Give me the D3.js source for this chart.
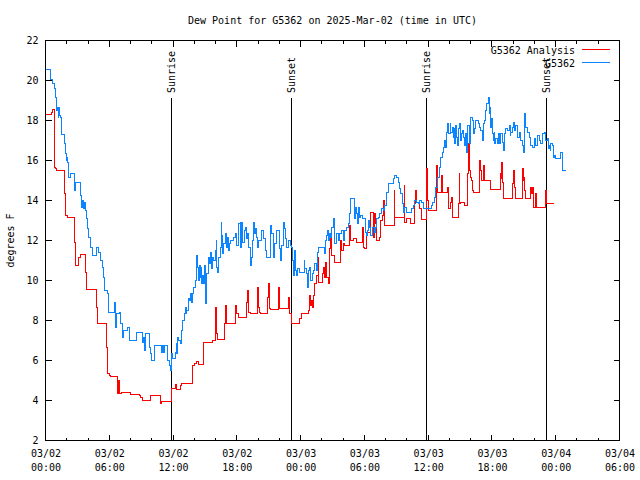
<!DOCTYPE html>
<html><head><meta charset="utf-8">
<script src="https://cdn.jsdelivr.net/npm/d3@7/dist/d3.min.js"></script>
<style>
body{margin:0;background:#fff}
text{font-family:"DejaVu Sans Mono","Liberation Mono",monospace;font-size:10px;fill:#000}
</style>
</head><body>
<svg id="chart" width="640" height="480"></svg>
<script>
// ---------- data ----------
const title = "Dew Point for G5362 on 2025-Mar-02 (time in UTC)";
const yAxisLabel = "degrees F";
const yTicks = [2,4,6,8,10,12,14,16,18,20,22];
const xTickHours = [0,6,12,18,24,30,36,42,48,54];
const xTickDates = ["03/02","03/02","03/02","03/02","03/03","03/03","03/03","03/03","03/04","03/04"];
const xTickTimes = ["00:00","06:00","12:00","18:00","00:00","06:00","12:00","18:00","00:00","06:00"];
const eventHours = [11.84, 23.13, 35.84, 47.13];
const eventLabels = ["Sunrise","Sunset","Sunrise","Sunset"];
const seriesNames = ["G5362 Analysis","G5362"];

// hours since 2025-03-02 00:00 UTC, dew point in degrees F
const analysisHours = [0,0.55,0.64,0.80,0.86,0.96,1.05,1.80,1.90,2.05,2.75,2.84,3.15,3.25,3.78,3.87,4.82,4.88,5.76,5.82,5.98,6.13,6.76,6.82,6.90,7.0,7.14,7.95,8.80,8.96,9.11,9.90,10.84,10.90,11.84,11.87,12.19,12.35,12.66,12.82,13.82,13.98,14.17,14.38,14.86,15.73,15.95,16.02,16.05,16.17,16.80,16.90,16.99,17.84,17.93,18.15,18.93,18.99,19.06,19.25,19.94,20.03,20.13,20.25,20.88,20.97,21.07,21.13,21.91,22.01,22.86,22.95,23.07,23.17,23.92,24.08,24.77,24.86,24.92,25.02,25.08,25.17,25.33,25.49,25.64,25.71,26.05,26.11,26.21,26.33,26.43,26.58,26.65,26.74,26.84,26.90,27.15,27.78,27.84,28.0,28.15,28.56,28.62,28.72,28.94,29.25,29.78,29.88,30.04,30.19,30.60,30.82,30.91,30.98,31.04,31.13,31.45,31.54,31.67,31.76,31.86,32.80,32.86,33.74,33.80,33.96,34.37,34.74,34.84,34.93,35.15,35.37,35.84,35.93,36.0,36.81,36.87,37.25,37.35,37.82,37.88,38.13,38.19,38.29,38.82,38.91,38.98,39.07,39.45,39.70,39.79,39.89,39.95,40.08,40.17,40.23,40.80,40.89,41.02,41.20,41.27,41.33,41.89,42.77,42.84,42.90,42.99,43.09,43.93,44.03,44.09,44.25,44.87,44.97,45.03,45.09,45.19,45.66,45.72,45.82,45.91,46.13,46.22,47.07,47.16,47.85];
const analysisValues = [18.3,18.42,18.53,17.08,15.67,15.58,15.5,14.33,13.25,13.13,11.92,10.75,11.17,11.3,10.42,9.53,8.67,7.83,6.67,5.33,5.25,5.2,4.67,4.33,5.0,4.33,4.42,4.3,4.25,4.13,4.0,4.25,3.83,3.97,4.5,4.58,4.8,4.53,4.75,4.87,5.75,5.87,5.95,5.8,6.92,7.0,7.92,8.67,7.33,7.03,7.83,8.75,7.83,8.75,8.33,8.17,8.92,9.5,8.42,8.33,9.67,8.67,8.42,8.33,9.17,9.83,8.58,8.53,9.67,8.58,9.17,8.37,8.33,7.83,8.08,8.33,8.5,9.25,8.75,9.0,8.67,9.25,9.83,10.25,11.17,9.92,10.33,10.67,10.17,10.92,10.17,10.08,9.83,11.58,12.17,11.25,10.92,12.0,11.5,11.83,11.75,12.5,12.75,12.0,12.08,11.92,12.67,11.67,11.58,12.42,13.42,12.17,12.75,13.33,12.83,12.0,12.13,13.0,13.25,14.0,12.75,14.5,13.17,14.75,12.92,13.08,12.83,13.83,14.5,13.92,13.58,13.03,15.58,14.0,13.5,15.75,14.42,15.25,14.42,14.67,13.58,13.92,14.17,13.17,13.83,15.33,13.83,13.92,13.75,15.33,16.83,15.5,15.17,15.0,14.5,14.42,16.0,15.5,15.0,15.75,15.17,15.0,14.53,15.33,15.08,15.92,14.92,14.08,14.83,15.5,14.67,14.08,15.58,15.0,15.17,14.5,14.08,14.67,14.33,14.67,13.67,14.33,13.67,14.5,13.83,13.83];

const stationHours = [0,0.49,0.64,0.80,0.96,1.05,1.11,1.18,1.24,1.33,1.43,1.49,1.80,1.90,1.96,2.02,2.05,2.12,2.21,2.31,2.75,2.84,3.25,3.37,3.47,3.56,3.69,3.81,3.87,3.94,4.09,4.25,4.41,4.82,4.97,5.19,5.35,5.44,5.51,5.82,5.88,6.45,6.54,6.60,6.70,6.92,7.01,7.23,7.33,7.76,7.86,8.58,9.11,9.21,9.27,9.43,9.74,9.90,9.99,10.27,10.90,11.0,11.09,11.22,11.47,11.62,11.72,11.84,11.94,12.19,12.28,12.35,12.41,12.50,12.66,12.75,12.91,13.04,13.13,13.22,13.29,13.44,13.54,13.66,13.76,13.85,13.91,14.07,14.17,14.23,14.29,14.38,14.48,14.54,14.60,14.70,14.79,14.86,14.92,15.01,15.08,15.17,15.33,15.42,15.48,15.64,15.73,15.80,15.95,16.05,16.11,16.17,16.27,16.42,16.52,16.58,16.64,16.74,16.90,17.05,17.11,17.21,17.30,17.37,17.68,17.84,17.93,17.99,18.15,18.31,18.37,18.46,18.56,18.68,18.78,18.87,19.0,19.09,19.25,19.34,19.47,19.56,19.66,19.75,19.88,19.97,20.03,20.35,20.50,20.66,20.82,21.19,21.29,21.44,21.51,21.69,22.01,22.07,22.23,22.38,22.48,22.54,22.70,22.86,23.01,23.17,23.23,23.30,23.45,23.51,23.60,23.70,23.92,24.33,24.39,24.55,24.64,24.77,24.86,24.95,25.08,25.17,25.33,25.49,25.58,25.64,26.21,26.33,26.43,26.52,26.58,26.74,26.84,26.90,27.06,27.21,27.37,27.53,27.68,27.84,28.0,28.15,28.31,28.47,28.62,28.72,29.03,29.09,29.16,29.25,29.35,29.47,29.57,29.66,29.79,30.10,30.19,30.29,30.41,30.51,30.60,30.73,30.91,31.04,31.13,31.29,31.45,31.60,31.76,31.92,32.07,32.23,32.70,32.86,33.02,33.17,33.33,33.42,33.55,33.64,33.80,33.96,34.43,34.58,34.68,34.90,35.06,35.21,35.37,35.53,36.31,36.40,36.56,36.72,36.87,37.03,37.19,37.35,37.44,37.57,37.66,37.75,37.82,37.91,38.07,38.13,38.29,38.38,38.44,38.51,38.60,38.69,38.76,38.82,38.91,39.01,39.13,39.23,39.32,39.38,39.54,39.64,39.70,39.86,39.95,40.17,40.26,40.33,40.48,40.70,40.80,40.95,41.11,41.20,41.33,41.42,41.52,41.64,41.74,41.83,41.89,41.99,42.05,42.15,42.21,42.27,42.37,42.52,42.58,42.68,42.84,42.99,43.09,43.15,43.31,43.46,43.62,43.71,43.78,43.93,44.03,44.09,44.25,44.40,44.56,44.72,44.87,44.97,45.03,45.19,45.35,45.50,45.66,45.82,45.97,46.13,46.29,46.44,46.60,46.76,46.91,47.07,47.23,47.29,47.38,47.48,47.54,47.70,47.79,47.92,48.01,48.48,48.64,48.98];
const stationValues = [20.53,20.03,19.83,19.58,19.17,18.5,18.67,18.17,18.67,18.25,18.17,17.3,16.83,16.33,16.0,16.17,15.92,15.42,15.17,15.37,14.5,14.92,14.25,13.67,14.0,13.58,13.92,13.5,13.08,12.58,12.17,11.67,11.25,11.67,11.42,11.0,10.67,10.17,9.5,9.33,8.42,8.92,8.33,7.67,8.33,8.42,7.83,7.17,7.5,7.67,7.0,7.42,6.92,7.17,6.5,7.33,6.67,6.33,6.0,6.75,6.42,6.75,6.42,6.75,6.0,5.75,5.5,6.33,6.08,6.42,6.83,6.33,7.17,7.0,6.83,7.5,8.0,8.33,8.67,8.33,8.5,9.08,9.0,9.33,8.92,9.33,9.67,10.0,10.5,11.25,10.67,10.0,10.75,10.17,10.67,9.83,10.25,9.83,10.75,9.33,8.83,10.33,11.17,10.83,11.42,10.58,11.17,11.0,11.5,12.0,10.67,10.42,11.17,11.67,12.92,12.25,11.33,11.83,12.33,11.67,12.17,11.5,11.83,12.0,12.17,12.33,12.08,11.75,12.83,12.92,11.67,12.92,11.92,12.5,12.67,12.08,12.33,11.67,10.75,11.17,12.0,12.92,12.33,12.58,12.17,11.67,12.0,12.5,12.08,11.5,11.17,12.75,12.33,11.17,11.83,12.5,11.58,11.0,11.75,12.92,12.58,12.08,11.67,12.0,11.75,11.67,11.0,10.25,11.5,10.5,10.25,10.58,10.42,11.0,10.58,10.33,9.67,10.5,10.67,10.0,10.33,10.5,10.83,10.5,11.42,11.67,11.33,12.0,12.25,12.5,12.0,12.33,12.17,12.67,13.08,11.83,12.33,12.0,12.33,12.5,12.0,12.5,12.67,12.83,13.33,14.08,13.33,13.08,13.67,13.33,12.83,13.67,13.17,13.25,13.08,12.42,12.25,12.5,13.0,12.67,12.25,12.67,12.42,12.67,13.08,13.17,13.33,13.58,13.5,13.75,14.42,14.83,15.08,15.25,15.17,14.92,14.58,14.33,13.83,13.42,13.67,13.42,13.58,13.75,14.0,13.92,13.83,14.0,13.92,13.58,13.75,13.92,14.17,14.67,15.17,15.67,16.17,16.42,16.67,17.0,16.67,17.42,17.83,17.33,17.83,17.42,17.67,17.17,17.58,16.83,17.75,17.17,16.75,17.58,17.83,17.0,17.33,17.5,17.17,16.75,17.33,16.42,17.75,16.83,18.17,18.0,17.33,17.58,18.0,17.83,17.67,17.5,17.0,17.83,18.0,18.5,18.83,19.17,18.33,18.67,17.67,18.08,17.33,17.0,17.42,16.83,17.08,16.83,17.33,16.83,17.33,16.92,16.5,17.33,17.58,17.5,17.75,17.25,17.42,17.67,17.92,17.5,17.75,17.17,17.42,17.0,16.75,16.42,18.33,17.67,17.42,17.17,16.75,16.67,17.08,16.75,17.25,17.0,16.83,17.33,17.42,17.0,17.08,16.58,16.75,16.5,16.83,16.75,16.17,16.25,16.08,16.42,15.5,15.5];

// ---------- drawing ----------
const W = 640, H = 480;
const L = 45.5, R = 619.5, T = 40.5, B = 440.5;
const svg = d3.select("#chart");
svg.append("rect").attr("width", W).attr("height", H).attr("fill", "#fff");

const x = d3.scaleLinear().domain([0, 54]).range([L, R]);
const y = d3.scaleLinear().domain([2, 22]).range([B, T]);

svg.append("defs").append("clipPath").attr("id", "clip")
  .append("rect").attr("x", L).attr("y", T).attr("width", R - L).attr("height", B - T);

// title
svg.append("text").attr("x", (L + R) / 2).attr("y", 20).attr("dy", "0.35em")
  .attr("text-anchor", "middle").text(title);

// y axis label
svg.append("text").attr("transform", `translate(10,${(T + B) / 2}) rotate(-90)`)
  .attr("text-anchor", "middle").attr("dy", "0.35em").text(yAxisLabel);

// axes (ticks inside, mirrored)
const axisLeft = d3.axisLeft(y).tickValues(yTicks).tickSize(0).tickPadding(7).tickFormat(d3.format("d"));
const gy = svg.append("g").attr("transform", `translate(${L},0)`).call(axisLeft);
gy.select(".domain").remove();
gy.selectAll("text").attr("font-family", null).attr("font-size", null);

const ticks = svg.append("g").attr("stroke", "#000").attr("stroke-width", 1).attr("shape-rendering", "crispEdges");
yTicks.forEach(v => {
  ticks.append("line").attr("x1", L).attr("x2", L + 6).attr("y1", y(v)).attr("y2", y(v));
  ticks.append("line").attr("x1", R - 6).attr("x2", R).attr("y1", y(v)).attr("y2", y(v));
});
const minorHours = d3.range(0, 55, 2).filter(h => h % 6 !== 0);
xTickHours.forEach(h => {
  ticks.append("line").attr("x1", x(h)).attr("x2", x(h)).attr("y1", B).attr("y2", B - 6);
  ticks.append("line").attr("x1", x(h)).attr("x2", x(h)).attr("y1", T).attr("y2", T + 6);
});
minorHours.forEach(h => {
  ticks.append("line").attr("x1", x(h)).attr("x2", x(h)).attr("y1", B).attr("y2", B - 3);
  ticks.append("line").attr("x1", x(h)).attr("x2", x(h)).attr("y1", T).attr("y2", T + 3);
});

const axisBottom = d3.axisBottom(x).tickValues(xTickHours).tickSize(0).tickFormat(() => "");
const gx = svg.append("g").attr("transform", `translate(0,${B})`).call(axisBottom);
gx.select(".domain").remove();
gx.selectAll(".tick").each(function (d, i) {
  const g = d3.select(this);
  g.append("text").attr("y", 13).attr("dy", "0.35em").attr("text-anchor", "middle").text(xTickDates[i]);
  g.append("text").attr("y", 27).attr("dy", "0.35em").attr("text-anchor", "middle").text(xTickTimes[i]);
});

// sunrise / sunset markers
const ev = svg.append("g");
eventHours.forEach((h, i) => {
  ev.append("line").attr("x1", x(h)).attr("x2", x(h)).attr("y1", 98).attr("y2", B)
    .attr("stroke", "#000").attr("stroke-width", 1).attr("shape-rendering", "crispEdges");
  ev.append("text").attr("transform", `translate(${x(h)},93) rotate(-90)`)
    .attr("dy", "0.35em").attr("text-anchor", "start").text(eventLabels[i]);
});

// series
const line = d3.line().curve(d3.curveStepAfter).x(d => x(d[0])).y(d => y(d[1]));
const analysis = analysisHours.map((h, i) => [h, analysisValues[i]]);
const station = stationHours.map((h, i) => [h, stationValues[i]]);
const colors = ["#ff0000", "#0a84ff"];
const plot = svg.append("g").attr("clip-path", "url(#clip)");
plot.append("path").datum(analysis).attr("d", line).attr("fill", "none").attr("stroke", colors[0])
  .attr("stroke-width", 1).attr("shape-rendering", "crispEdges");
plot.append("path").datum(station).attr("d", line).attr("fill", "none").attr("stroke", colors[1])
  .attr("stroke-width", 1).attr("shape-rendering", "crispEdges");

// legend
const lg = svg.append("g");
seriesNames.forEach((n, i) => {
  const ly = 50 + i * 13;
  lg.append("text").attr("x", 575).attr("y", ly).attr("dy", "0.35em").attr("text-anchor", "end").text(n);
  lg.append("line").attr("x1", 582).attr("x2", 610).attr("y1", ly - 0.5).attr("y2", ly - 0.5)
    .attr("stroke", colors[i]).attr("stroke-width", 1).attr("shape-rendering", "crispEdges");
});

// border
svg.append("rect").attr("x", L).attr("y", T).attr("width", R - L).attr("height", B - T)
  .attr("fill", "none").attr("stroke", "#000").attr("stroke-width", 1).attr("shape-rendering", "crispEdges");
</script>
</body></html>
